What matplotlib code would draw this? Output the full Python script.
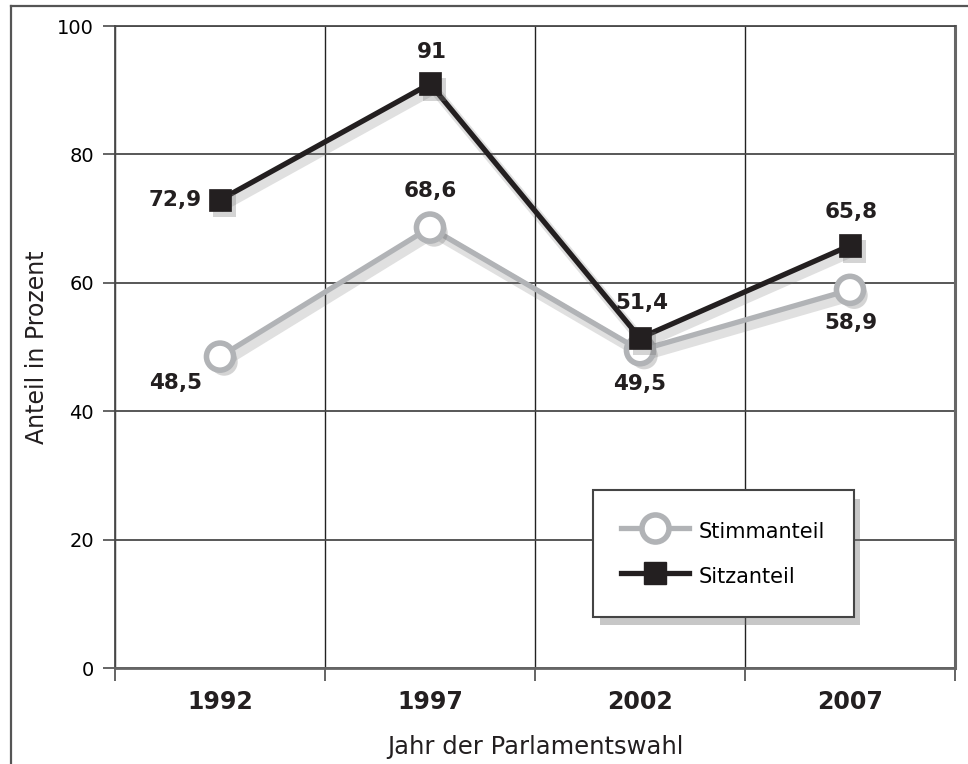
import matplotlib
matplotlib.use("Agg")
import matplotlib.pyplot as plt
import matplotlib.patheffects as pe
from matplotlib.lines import Line2D
import numpy as np

years = ["1992", "1997", "2002", "2007"]
stimmanteil = [48.5, 68.6, 49.5, 58.9]
sitzanteil = [72.9, 91.0, 51.4, 65.8]
stimm_labels = ["48,5", "68,6", "49,5", "58,9"]
sitz_labels = ["72,9", "91", "51,4", "65,8"]

GRAY = "#b1b3b6"
BLACK = "#231f20"
GRID = "#4a4a4a"

plt.rcParams['font.family'] = ['DejaVu Sans']

fig = plt.figure(figsize=(9.68, 7.64), dpi=100)
ax = fig.add_axes([115 / 968, 1 - 668 / 764, 840 / 968, 642 / 764])

x = np.arange(len(years)) + 0.5

line_shadow = [pe.SimpleLineShadow(offset=(3, -4), shadow_color="0.45", alpha=0.22, linewidth=7),
               pe.Normal()]
mark_shadow = [pe.SimplePatchShadow(offset=(3, -4), shadow_rgbFace="0.45", alpha=0.3),
               pe.Normal()]

# Stimmanteil
ax.plot(x, stimmanteil, color=GRAY, lw=3.8, zorder=3, path_effects=line_shadow,
        solid_joinstyle="miter")
ax.plot(x, stimmanteil, ls="none", marker="o", ms=19.5, mfc="white", mec=GRAY, mew=4,
        zorder=4, path_effects=mark_shadow)

# Sitzanteil
ax.plot(x, sitzanteil, color=BLACK, lw=3.8, zorder=5, path_effects=line_shadow,
        solid_joinstyle="miter")
ax.plot(x, sitzanteil, ls="none", marker="s", ms=16.5, mfc=BLACK, mec=BLACK, mew=0.5,
        zorder=6, path_effects=mark_shadow)

lab_kw = dict(textcoords="offset points", fontsize=15.5, fontweight="bold", color=BLACK,
              zorder=7)
# Sitzanteil labels
ax.annotate(sitz_labels[0], (x[0], sitzanteil[0]), xytext=(-13, 0), ha="right", va="center", **lab_kw)
ax.annotate(sitz_labels[1], (x[1], sitzanteil[1]), xytext=(1, 23), ha="center", va="center", **lab_kw)
ax.annotate(sitz_labels[2], (x[2], sitzanteil[2]), xytext=(1, 25), ha="center", va="center", **lab_kw)
ax.annotate(sitz_labels[3], (x[3], sitzanteil[3]), xytext=(1, 24), ha="center", va="center", **lab_kw)
# Stimmanteil labels
ax.annotate(stimm_labels[0], (x[0], stimmanteil[0]), xytext=(-13, -19), ha="right", va="center", **lab_kw)
ax.annotate(stimm_labels[1], (x[1], stimmanteil[1]), xytext=(0, 26), ha="center", va="center", **lab_kw)
ax.annotate(stimm_labels[2], (x[2], stimmanteil[2]), xytext=(0, -24), ha="center", va="center", **lab_kw)
ax.annotate(stimm_labels[3], (x[3], stimmanteil[3]), xytext=(1, -24), ha="center", va="center", **lab_kw)

ax.set_xlim(0, 4)
ax.set_ylim(0, 100)

ax.set_yticks(np.arange(0, 101, 20))
ax.tick_params(axis="y", length=8.5, width=1.2, color=GRID, labelsize=14, pad=6.5)
ax.set_xticks(x)
ax.set_xticklabels(years, fontsize=17, fontweight="bold", color=BLACK)
ax.set_xticks(np.arange(0, 5), minor=True)
ax.tick_params(axis="x", which="major", length=0, pad=16)
ax.tick_params(axis="x", which="minor", length=9.5, width=1.2, color=GRID)

ax.grid(True, axis="y", color=GRID, lw=1.3)
ax.grid(True, axis="x", which="minor", color="#222222", lw=1.0)
ax.set_axisbelow(True)

for side in ["left", "top"]:
    ax.spines[side].set_color(GRID)
    ax.spines[side].set_linewidth(1.3)
ax.spines["bottom"].set_color("#666666")
ax.spines["bottom"].set_linewidth(2)
ax.spines["right"].set_color("#666666")
ax.spines["right"].set_linewidth(2.2)

ax.set_xlabel("Jahr der Parlamentswahl", fontsize=17.5, color=BLACK, labelpad=15)
ax.set_ylabel("Anteil in Prozent", fontsize=17, color=BLACK, labelpad=6)

handles = [
    Line2D([], [], color=GRAY, lw=3.8, marker="o", ms=19.5, mfc="white", mec=GRAY, mew=4),
    Line2D([], [], color=BLACK, lw=3.8, marker="s", ms=16.5, mfc=BLACK, mec=BLACK),
]
leg = ax.legend(handles, ["Stimmanteil", "Sitzanteil"], loc="center",
                bbox_to_anchor=(0.724, 0.178), fontsize=15, frameon=True, fancybox=False,
                handlelength=3.25, handleheight=1.5, handletextpad=0.5, borderpad=1.35,
                labelspacing=0.95, framealpha=1, edgecolor="#444444")
leg.get_frame().set_linewidth(1.5)
leg.get_frame().set_path_effects([
    pe.SimplePatchShadow(offset=(5, -6), shadow_rgbFace="0.45", alpha=0.4),
    pe.Normal()])
leg.set_zorder(10)

# outer frame lines (top and left)
fig.add_artist(Line2D([11 / 968, 1], [1 - 6 / 764, 1 - 6 / 764], color="#555555", lw=1.6))
fig.add_artist(Line2D([11 / 968, 11 / 968], [0, 1 - 6 / 764], color="#555555", lw=1.6))

fig.savefig("out.png", dpi=100)
